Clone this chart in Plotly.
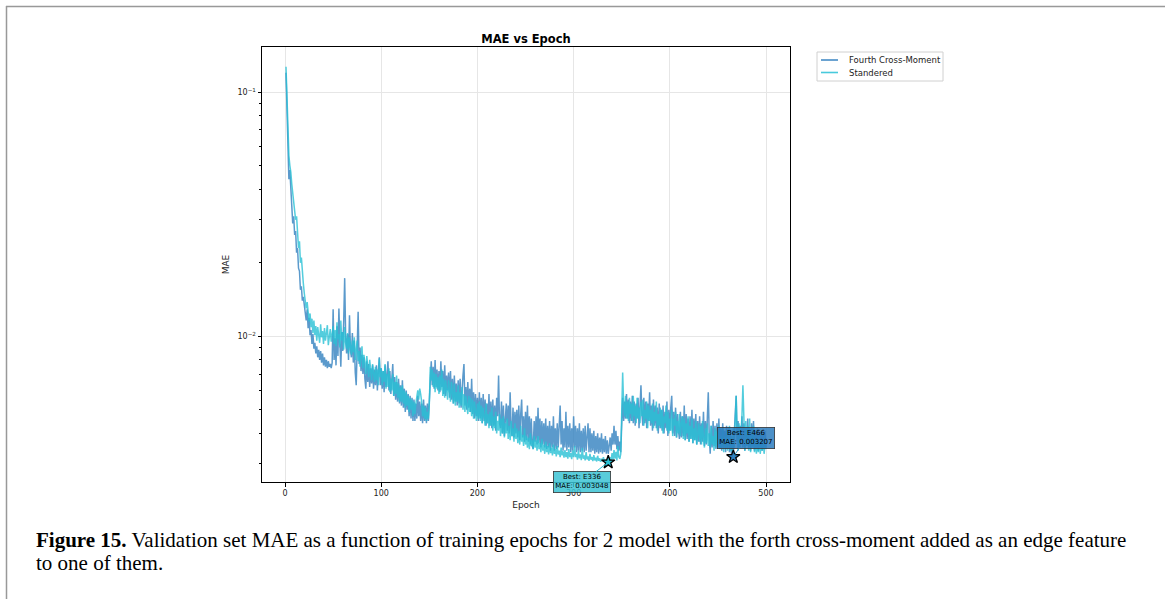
import numpy as np
import plotly.graph_objects as go

# ---------------- data (MAE values in units of 1e-3), one value per epoch ----------------
epochs = list(range(1, 501))

fourth_mae_milli = [
    120, 90, 62, 44, 48, 41, 36, 29, 31, 26,
    27, 22, 23, 19, 18.5, 15.5, 16, 14, 14.5, 13.2,
    12.8, 11.6, 12.9, 10.8, 11.9, 10.1, 10.6, 9.3, 10.2, 8.9,
    9.4, 8.5, 9.1, 8.2, 8.8, 8.0, 8.7, 7.8, 8.5, 7.6,
    8.2, 7.5, 8.0, 7.4, 7.9, 7.5, 7.7, 7.4, 7.8, 12.9,
    8.0, 9.8, 7.6, 11.0, 8.3, 13.0, 9.4, 7.5, 10.4, 8.7,
    11.6, 17.3, 10.0, 8.5, 10.2, 8.0, 12.2, 8.8, 8.2, 10.3,
    7.8, 9.6, 7.1, 6.3, 9.0, 12.6, 7.7, 9.0, 7.2, 8.4,
    7.0, 8.2, 6.7, 6.1, 7.9, 6.5, 7.7, 6.2, 7.4, 6.4,
    7.6, 6.1, 7.3, 6.3, 7.6, 6.0, 7.2, 8.2, 6.3, 7.4,
    6.1, 7.2, 5.9, 7.6, 6.2, 7.1, 7.9, 6.0, 7.2, 5.8,
    6.9, 7.7, 5.7, 6.8, 5.5, 6.5, 5.4, 6.7, 5.3, 6.3,
    5.2, 6.6, 5.1, 6.1, 4.9, 6.0, 5.0, 5.8, 4.7, 5.7,
    4.6, 5.6, 4.5, 5.5, 4.5, 5.3, 4.6, 5.7, 4.7, 5.4,
    4.5, 5.3, 4.4, 5.5, 4.5, 5.2, 4.4, 5.3, 4.5, 5.4,
    6.8, 7.9, 6.3, 7.5, 6.1, 8.0, 6.2, 7.3, 6.0, 7.2,
    5.9, 7.9, 6.2, 7.2, 5.8, 7.6, 5.7, 6.9, 6.0, 7.1,
    5.6, 7.2, 5.5, 6.7, 5.3, 6.9, 5.4, 6.4, 5.2, 6.6,
    5.3, 6.7, 5.1, 6.3, 6.9, 7.7, 5.2, 6.2, 5.0, 6.5,
    5.1, 6.1, 4.9, 6.7, 4.8, 5.9, 4.6, 5.8, 4.7, 5.6,
    4.5, 5.9, 4.6, 5.6, 4.4, 5.8, 4.5, 5.5, 4.3, 5.3,
    4.4, 5.8, 4.3, 5.4, 4.2, 5.5, 4.3, 5.2, 4.1, 5.6,
    4.7, 6.9, 4.4, 4.2, 5.4, 4.0, 5.2, 3.9, 5.0, 5.3,
    4.1, 5.2, 4.0, 5.9, 4.2, 3.9, 5.1, 3.85, 4.9, 4.0,
    5.0, 3.85, 5.2, 3.75, 4.8, 5.5, 3.85, 4.7, 3.7, 4.9,
    3.75, 5.2, 3.7, 4.7, 3.6, 4.6, 3.55, 3.45, 4.5, 3.7,
    4.7, 3.6, 5.1, 3.65, 4.6, 3.5, 4.5, 3.6, 4.4, 3.5,
    4.6, 3.45, 4.3, 3.5, 4.5, 3.4, 4.3, 3.5, 4.7, 3.4,
    4.2, 3.45, 4.4, 3.5, 4.3, 5.2, 3.6, 4.5, 3.4, 4.2,
    3.5, 4.9, 3.4, 4.3, 3.5, 4.4, 3.35, 4.2, 3.4, 4.7,
    3.5, 4.3, 3.35, 4.2, 3.4, 4.4, 3.35, 4.1, 3.4, 4.2,
    3.35, 4.3, 3.4, 4.1, 4.4, 3.35, 4.2, 3.35, 4.0, 3.4,
    4.1, 3.3, 3.9, 3.35, 4.0, 3.3, 3.85, 3.35, 4.0, 3.3,
    3.8, 3.35, 3.9, 3.3, 3.75, 3.3, 3.7, 3.85, 3.4, 4.0,
    3.6, 4.3, 3.6, 4.1, 3.45, 3.9, 3.4, 3.7, 3.35, 5.0,
    5.6, 4.5, 5.4, 4.6, 5.8, 4.6, 5.5, 4.4, 5.4, 4.5,
    5.7, 4.4, 5.4, 4.3, 5.3, 4.6, 5.6, 4.2, 5.2, 6.3,
    4.8, 4.3, 5.6, 4.4, 5.4, 4.2, 5.3, 4.5, 5.9, 4.3,
    5.2, 4.1, 5.5, 4.3, 5.2, 4.2, 5.1, 4.0, 5.3, 4.2,
    5.0, 4.1, 5.2, 4.0, 4.9, 4.2, 5.4, 3.9, 5.0, 4.1,
    5.1, 5.7, 4.0, 4.9, 3.9, 5.1, 3.85, 4.8, 4.1, 3.8,
    4.9, 3.85, 4.7, 3.9, 5.2, 3.75, 4.8, 3.8, 4.6, 3.7,
    4.7, 3.8, 5.0, 3.65, 4.6, 3.75, 4.8, 3.6, 4.5, 3.7,
    4.7, 3.6, 4.4, 3.7, 4.9, 3.55, 4.5, 3.6, 4.6, 5.9,
    3.9, 3.3, 4.3, 3.5, 4.5, 3.55, 4.3, 3.45, 4.4, 3.5,
    4.6, 3.45, 4.2, 3.4, 4.4, 3.5, 4.1, 3.35, 4.3, 3.45,
    4.2, 3.35, 4.0, 3.3, 3.7, 3.207, 4.0, 4.8, 5.7, 3.7,
    4.5, 3.5, 4.3, 3.6, 4.7, 3.5, 4.4, 3.4, 4.2, 3.55,
    4.6, 3.5, 4.2, 3.4, 4.4, 3.55, 4.5, 3.4, 4.1, 3.5,
    4.2, 3.4, 4.0, 3.5, 4.1, 3.4, 4.0, 3.5, 4.1, 3.5,
]

standered_mae_milli = [
    127, 95, 70, 55, 50, 47, 42, 39, 35, 33,
    30, 31, 25, 23, 24.5, 20, 21, 18, 16.5, 15,
    14.2, 13.0, 13.8, 12.2, 11.5, 12.4, 10.9, 11.8, 10.3, 11.6,
    10.1, 11.0, 9.6, 10.9, 10.2, 9.4, 11.2, 9.9, 10.5, 9.3,
    10.8, 9.6, 10.3, 11.1, 9.2, 10.0, 10.7, 9.5, 10.4, 11.0,
    9.3, 10.6, 9.1, 11.4, 9.7, 10.2, 9.0, 11.6, 9.6, 10.4,
    8.8, 10.9, 9.4, 8.9, 10.3, 8.5, 9.9, 9.1, 8.4, 9.6,
    8.6, 9.9, 8.0, 8.8, 9.6, 7.9, 8.7, 7.5, 8.5, 9.1,
    7.4, 8.4, 7.8, 7.0, 8.3, 7.3, 6.8, 8.0, 7.1, 6.6,
    7.7, 6.9, 6.5, 7.5, 6.6, 7.3, 6.3, 8.1, 6.8, 7.4,
    6.3, 7.2, 6.5, 7.7, 6.1, 7.0, 6.2, 7.4, 5.9, 6.7,
    6.0, 7.0, 5.7, 6.5, 5.8, 6.9, 5.6, 6.4, 5.4, 6.2,
    5.4, 6.3, 5.3, 6.0, 5.1, 5.9, 5.2, 5.7, 4.9, 5.6,
    5.0, 5.5, 4.7, 5.4, 4.8, 5.3, 5.7, 6.0, 5.5, 6.1,
    5.8, 5.4, 4.7, 5.2, 4.6, 5.1, 4.5, 4.9, 4.6, 5.3,
    7.5, 6.6, 7.3, 6.2, 7.1, 5.9, 7.0, 6.1, 6.8, 5.8,
    6.9, 6.0, 7.3, 5.7, 6.7, 5.6, 6.6, 6.0, 5.5, 6.6,
    5.8, 5.4, 6.5, 5.6, 5.3, 6.4, 5.2, 5.9, 5.4, 6.3,
    5.1, 5.9, 5.2, 6.2, 5.0, 5.8, 4.9, 5.7, 5.2, 4.8,
    5.7, 4.9, 5.6, 4.7, 5.5, 4.6, 5.4, 4.9, 4.5, 5.3,
    4.6, 5.4, 4.5, 5.2, 4.4, 5.1, 4.7, 4.3, 5.3, 4.4,
    4.8, 4.2, 4.9, 4.3, 5.1, 4.1, 4.7, 4.2, 4.9, 4.0,
    4.5, 4.1, 4.8, 3.9, 4.6, 4.0, 4.7, 3.85, 4.4, 4.0,
    4.6, 3.8, 4.3, 3.75, 4.5, 3.9, 4.2, 3.7, 4.4, 3.8,
    4.2, 3.65, 4.1, 3.6, 4.3, 3.7, 3.95, 3.55, 4.2, 3.6,
    3.9, 3.5, 3.85, 3.45, 4.0, 3.55, 3.75, 3.45, 3.9, 3.5,
    3.75, 3.4, 3.9, 3.45, 3.65, 3.35, 3.8, 3.4, 3.6, 3.3,
    3.7, 3.35, 3.55, 3.28, 3.65, 3.32, 3.5, 3.25, 3.6, 3.3,
    3.45, 3.22, 3.55, 3.28, 3.4, 3.2, 3.5, 3.25, 3.38, 3.18,
    3.42, 3.2, 3.35, 3.15, 3.45, 3.2, 3.32, 3.14, 3.4, 3.2,
    3.55, 3.2, 3.3, 3.12, 3.4, 3.16, 3.28, 3.11, 3.48, 3.15,
    3.25, 3.1, 3.35, 3.13, 3.22, 3.09, 3.3, 3.12, 3.2, 3.08,
    3.26, 3.1, 3.18, 3.07, 3.24, 3.09, 3.16, 3.06, 3.15, 3.08,
    3.2, 3.06, 3.13, 3.055, 3.1, 3.048, 3.09, 3.2, 3.1, 3.32,
    3.12, 3.42, 3.15, 3.36, 3.1, 3.55, 3.2, 3.15, 3.3, 4.8,
    7.1, 5.2, 4.7, 5.7, 4.6, 5.4, 4.5, 5.6, 4.8, 5.3,
    4.5, 5.7, 4.7, 5.2, 4.4, 5.6, 4.6, 5.1, 4.4, 5.4,
    4.7, 5.5, 4.3, 5.0, 4.6, 5.4, 4.2, 5.2, 4.5, 5.0,
    4.4, 5.3, 4.2, 4.9, 4.5, 5.4, 4.1, 4.8, 4.3, 5.1,
    4.2, 5.0, 4.0, 4.7, 4.4, 5.2, 4.1, 4.9, 4.0, 4.6,
    4.1, 5.0, 3.9, 4.6, 4.3, 4.9, 3.85, 4.5, 4.0, 4.8,
    3.9, 4.4, 4.7, 3.8, 4.6, 3.75, 4.4, 4.0, 4.7, 3.7,
    4.3, 3.8, 4.6, 3.65, 4.2, 3.75, 4.5, 3.6, 4.1, 4.4,
    3.7, 4.3, 3.6, 4.5, 3.8, 3.5, 4.2, 3.65, 4.4, 3.55,
    4.0, 3.5, 4.3, 3.6, 3.9, 3.4, 4.2, 3.5, 4.1, 3.6,
    4.3, 3.45, 3.9, 3.5, 4.2, 3.35, 3.9, 3.5, 4.1, 3.4,
    3.8, 4.3, 3.4, 3.9, 3.35, 4.2, 3.5, 4.5, 5.7, 3.9,
    3.4, 4.4, 3.5, 4.0, 4.7, 6.3, 4.0, 3.4, 4.5, 3.6,
    4.3, 3.4, 4.6, 3.35, 3.9, 3.5, 4.3, 3.35, 3.8, 3.3,
    3.7, 3.35, 3.9, 3.3, 3.6, 3.4, 3.8, 3.3, 3.6, 3.45,
]

series_names = ["Fourth Cross-Moment", "Standered"]
x_tick_vals = [0, 100, 200, 300, 400, 500]
y_tick_vals = [0.01, 0.1]
y_tick_text = ["10<sup>\u22122</sup>", "10<sup>\u22121</sup>"]
y_minor_vals = [0.003, 0.004, 0.005, 0.006, 0.007, 0.008, 0.009,
                0.02, 0.03, 0.04, 0.05, 0.06, 0.07, 0.08, 0.09]

title_text = "MAE vs Epoch"
caption_line1 = ("<b>Figure 15.</b> Validation set MAE as a function of training epochs for 2 model "
                 "with the forth cross-moment added as an edge feature")
caption_line2 = "to one of them."

assert len(fourth_mae_milli) == len(epochs) and len(standered_mae_milli) == len(epochs)

fourth = np.array(fourth_mae_milli) / 1000.0
standered = np.array(standered_mae_milli) / 1000.0
ep = np.array(epochs)

# ---------------- styling ----------------
W, H = 1165, 599
PL, PR, PT, PB = 262, 790, 47, 482   # plot area in pixels
C_BLUE = "rgba(45,125,190,0.78)"
C_CYAN = "rgba(40,192,212,0.80)"
C_BLUE_SOLID = "rgb(70,140,198)"
C_CYAN_SOLID = "rgb(72,202,220)"
C_BLUE_BOX = "rgba(45,125,190,0.85)"
C_CYAN_BOX = "rgba(60,195,212,0.85)"
FONT = "DejaVu Sans"


def px(xp):
    return (xp - PL) / (PR - PL)


def py(yp):
    return (PB - yp) / (PB - PT)


fig = go.Figure()
fig.add_trace(go.Scatter(x=ep, y=fourth, mode="lines", name=series_names[0],
                         line=dict(color=C_BLUE, width=1.5)))
fig.add_trace(go.Scatter(x=ep, y=standered, mode="lines", name=series_names[1],
                         line=dict(color=C_CYAN, width=1.5)))

# best markers
bi_f = int(np.argmin(fourth))
bi_s = int(np.argmin(standered))
fig.add_trace(go.Scatter(x=[ep[bi_s]], y=[standered[bi_s]], mode="markers", showlegend=False,
                         marker=dict(symbol="star", size=10, color="rgb(40,192,212)",
                                     line=dict(color="black", width=1.3))))
fig.add_trace(go.Scatter(x=[ep[bi_f]], y=[fourth[bi_f]], mode="markers", showlegend=False,
                         marker=dict(symbol="star", size=10, color="rgb(45,125,190)",
                                     line=dict(color="black", width=1.3))))

allv = np.concatenate([fourth, standered])
lo, hi = np.log10(allv.min()), np.log10(allv.max())
pad = 0.05 * (hi - lo)
xpad = 0.05 * (ep.max() - ep.min())

ann = [
    dict(x=ep[bi_s], y=np.log10(standered[bi_s]), xref="x", yref="y",
         text=f"Best: E{ep[bi_s]}<br>MAE: {standered[bi_s]:.6f}",
         showarrow=True, arrowhead=0, arrowwidth=1, arrowcolor="rgb(40,192,212)",
         ax=-26, ay=20, bgcolor=C_CYAN_BOX, bordercolor="#333333", borderwidth=0.8,
         borderpad=1.5, font=dict(family=FONT, size=7, color="black")),
    dict(x=ep[bi_f], y=np.log10(fourth[bi_f]), xref="x", yref="y",
         text=f"Best: E{ep[bi_f]}<br>MAE: {fourth[bi_f]:.6f}",
         showarrow=True, arrowhead=0, arrowwidth=1, arrowcolor="rgb(45,150,200)",
         ax=13, ay=-19, bgcolor=C_BLUE_BOX, bordercolor="#333333", borderwidth=0.8,
         borderpad=1.5, font=dict(family=FONT, size=7, color="black")),
    # caption
    dict(x=px(34), y=py(540), xref="paper", yref="paper", xanchor="left", yanchor="middle",
         text=caption_line1, showarrow=False, align="left",
         font=dict(family="Liberation Serif", size=21, color="black")),
    dict(x=px(34), y=py(563), xref="paper", yref="paper", xanchor="left", yanchor="middle",
         text=caption_line2, showarrow=False, align="left",
         font=dict(family="Liberation Serif", size=21, color="black")),
    # legend labels
    dict(x=px(847), y=py(60), xref="paper", yref="paper", xanchor="left", yanchor="middle",
         text=series_names[0], showarrow=False,
         font=dict(family=FONT, size=8.5, color="#222222")),
    dict(x=px(847), y=py(72.5), xref="paper", yref="paper", xanchor="left", yanchor="middle",
         text=series_names[1], showarrow=False,
         font=dict(family=FONT, size=8.5, color="#222222")),
]

shapes = [
    # page frame
    dict(type="line", xref="paper", yref="paper", x0=px(6), x1=px(1165), y0=py(6.5), y1=py(6.5),
         line=dict(color="#999999", width=1.5)),
    dict(type="line", xref="paper", yref="paper", x0=px(6.5), x1=px(6.5), y0=py(6), y1=py(599),
         line=dict(color="#999999", width=1.5)),
    # legend box and samples
    dict(type="rect", xref="paper", yref="paper", x0=px(817), x1=px(943), y0=py(81), y1=py(52),
         line=dict(color="#d0d0d0", width=1), fillcolor="white"),
    dict(type="line", xref="paper", yref="paper", x0=px(821), x1=px(838), y0=py(60), y1=py(60),
         line=dict(color=C_BLUE_SOLID, width=1.6)),
    dict(type="line", xref="paper", yref="paper", x0=px(821), x1=px(838), y0=py(72.5), y1=py(72.5),
         line=dict(color=C_CYAN_SOLID, width=1.6)),
]

fig.update_layout(
    width=W, height=H,
    margin=dict(l=PL, r=W - PR, t=PT, b=H - PB, pad=0),
    paper_bgcolor="white", plot_bgcolor="white",
    font=dict(family=FONT, size=8, color="#222222"),
    title=dict(text="<b>" + title_text + "</b>", x=px(526), xref="paper",
               y=1 - 39 / H, yref="container", xanchor="center", yanchor="middle",
               font=dict(family=FONT, size=11.5, color="black")),
    showlegend=False,
    annotations=ann,
    shapes=shapes,
)

fig.update_xaxes(
    range=[ep.min() - xpad, ep.max() + xpad],
    tickmode="array", tickvals=x_tick_vals,
    ticks="outside", ticklen=3.5, tickwidth=0.8, tickcolor="black",
    showline=True, linecolor="black", linewidth=1, mirror=True,
    showgrid=True, gridcolor="#e6e6e6", gridwidth=0.8, zeroline=False,
    tickfont=dict(family=FONT, size=8, color="#222222"),
    title=dict(text="Epoch", standoff=4, font=dict(family=FONT, size=9, color="#222222")),
)
fig.update_yaxes(
    type="log", range=[lo - pad, hi + pad],
    tickmode="array", tickvals=y_tick_vals, ticktext=y_tick_text,
    ticks="outside", ticklen=3.5, tickwidth=0.8, tickcolor="black",
    minor=dict(tickmode="array", tickvals=y_minor_vals, ticks="outside", ticklen=2,
               tickwidth=0.6, tickcolor="black", showgrid=False),
    showline=True, linecolor="black", linewidth=1, mirror=True,
    showgrid=True, gridcolor="#e6e6e6", gridwidth=0.8, zeroline=False,
    tickfont=dict(family=FONT, size=8, color="#222222"),
    title=dict(text="MAE", standoff=6, font=dict(family=FONT, size=9, color="#222222")),
)

fig.write_html("out.html")
